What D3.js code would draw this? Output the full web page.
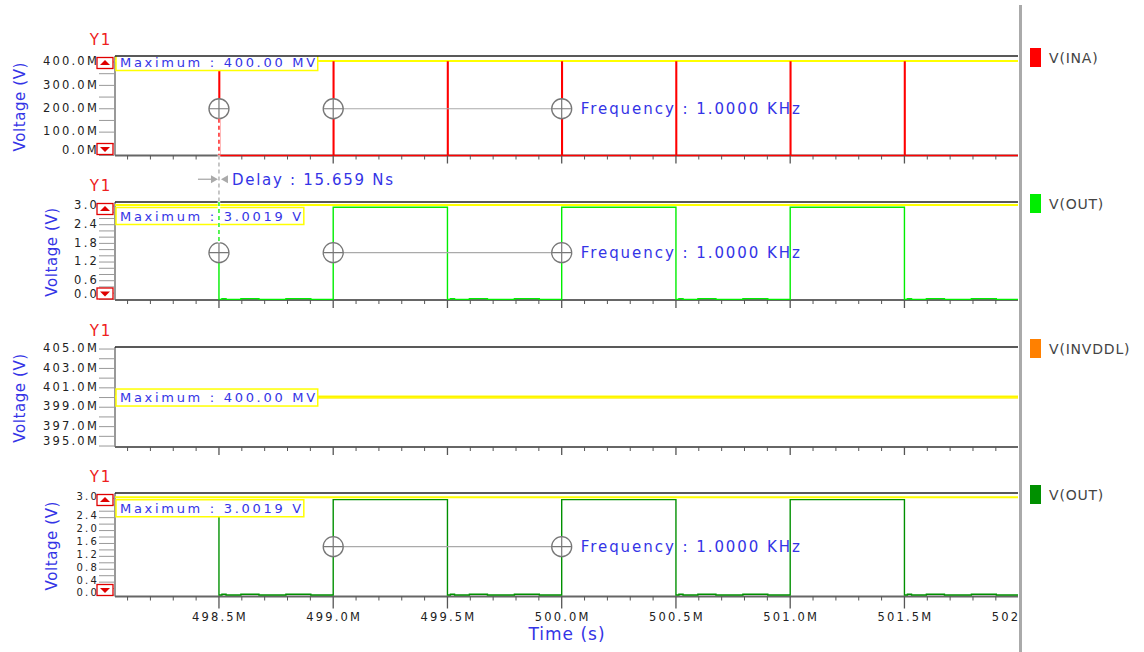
<!DOCTYPE html>
<html>
<head>
<meta charset="utf-8">
<script src="https://cdnjs.cloudflare.com/ajax/libs/d3/7.8.5/d3.min.js"></script>
<style>
body { margin: 0; background: #fff; }
svg { display: block; font-family: "DejaVu Sans", Verdana, sans-serif; }
</style>
</head>
<body>
<svg width="1144" height="652"></svg>
<script>
// time axis, in ms ("M" = milli)
const timeTicks = [498.5, 499.0, 499.5, 500.0, 500.5, 501.0, 501.5, 502.0];
const timeLabels = ['498.5M', '499.0M', '499.5M', '500.0M', '500.5M', '501.0M', '501.5M', '502.0M'];
const tStart = 498.5;
const tEnd = 502.0;

// V(INA): narrow pulses
const inaPulses = [498.5, 499.0, 499.5, 500.0, 500.5, 501.0, 501.5];
const inaHigh = 0.4;
const inaWidth = 0.003;

// V(OUT): toggles at every pulse, starts high
const outEdges = [498.5, 499.0, 499.5, 500.0, 500.5, 501.0, 501.5];
const outHigh = 2.96;
// small bumps on the low level
const outRipple = [
  [498.513, 498.531], [498.596, 498.675], [498.793, 498.902],
  [499.513, 499.531], [499.596, 499.675], [499.793, 499.902],
  [500.513, 500.531], [500.596, 500.675], [500.793, 500.902],
  [501.513, 501.531], [501.596, 501.675], [501.793, 501.902]
];
const rippleLevel = 0.025;

// V(INVDDL): flat
const invddlLevel = 0.4;

// y tick labels
const inaTicks = [0, 0.1, 0.2, 0.3, 0.4];
const inaTickLabels = ['0.0M', '100.0M', '200.0M', '300.0M', '400.0M'];
const outTicks = [0, 0.6, 1.2, 1.8, 2.4, 3.0];
const outTickLabels = ['0.0', '0.6', '1.2', '1.8', '2.4', '3.0'];
const invddlTicks = [0.395, 0.397, 0.399, 0.401, 0.403, 0.405];
const invddlTickLabels = ['395.0M', '397.0M', '399.0M', '401.0M', '403.0M', '405.0M'];
const out2Ticks = [0, 0.4, 0.8, 1.2, 1.6, 2.0, 2.4, 3.0];
const out2TickLabels = ['0.0', '0.4', '0.8', '1.2', '1.6', '2.0', '2.4', '3.0'];

const legendNames = ['V(INA)', 'V(OUT)', 'V(INVDDL)', 'V(OUT)'];
const maxValues = [0.4, 3.0019, 0.4, 3.0019];
const maxLabels = ['Maximum : 400.00 MV', 'Maximum : 3.0019 V', 'Maximum : 400.00 MV', 'Maximum : 3.0019 V'];

// cursors
const delayCursor = 498.5;
const freqCursors = [499.0, 500.0];
const markerLevels = [0.2, 1.5, null, 1.5];
const freqText = 'Frequency : 1.0000 KHz';
const delayText = 'Delay : 15.659 Ns';

var blue = '#3434e6';

function inaPoints() {
  var pts = [];
  inaPulses.forEach(function (t) {
    pts.push([t, 0], [t, inaHigh], [t + inaWidth, inaHigh], [t + inaWidth, 0]);
  });
  pts.push([tEnd, 0]);
  return pts;
}

function outPoints() {
  var pts = [];
  var level = outHigh;
  outEdges.forEach(function (t, i) {
    pts.push([t, level]);
    level = level === outHigh ? 0 : outHigh;
    pts.push([t, level]);
    if (level === 0) {
      var next = i + 1 < outEdges.length ? outEdges[i + 1] : tEnd;
      outRipple.filter(r => r[0] > t && r[1] < next).forEach(function (r) {
        pts.push([r[0], 0], [r[0], rippleLevel], [r[1], rippleLevel], [r[1], 0]);
      });
    }
  });
  pts.push([tEnd, level]);
  return pts;
}

var svg = d3.select('svg');

var x = d3.scaleLinear()
			.domain([498.045, 501.997])
			.range([115, 1018]);

var panels = [
  { color: '#ff0000', top: 56, bottom: 155.5, domain: [0, 0.4257], ticks: inaTicks, labels: inaTickLabels,
    minor: d3.range(0, 0.4001, 0.05), labelX: 20, buttons: true, boxMode: 'center', font: 11.5, lift: 1, floor: 5,
    data: inaPoints(), markers: [delayCursor].concat(freqCursors), majorLen: 8 },
  { color: '#00ee00', top: 202, bottom: 300, domain: [-0.02, 3.13], ticks: outTicks, labels: outTickLabels,
    minor: d3.range(0, 3.001, 0.2), labelX: 52, buttons: true, boxMode: 'below', font: 11.5, lift: 1, floor: 5,
    data: outPoints(), markers: [delayCursor].concat(freqCursors), majorLen: 8 },
  { color: '#ff8000', top: 347, bottom: 447, domain: [0.3949, 0.40521], ticks: invddlTicks, labels: invddlTickLabels,
    minor: d3.range(0.395, 0.40501, 0.001), labelX: 20, buttons: false, boxMode: 'center', font: 11.5, lift: 1, floor: 5,
    data: [[tStart, invddlLevel], [tEnd, invddlLevel]], markers: [], majorLen: 8 },
  { color: '#009000', top: 493, bottom: 596.5, domain: [-0.045, 3.165], ticks: out2Ticks, labels: out2TickLabels,
    minor: d3.range(0, 3.001, 0.2), labelX: 52, buttons: true, boxMode: 'below', font: 10, lift: 2, floor: 3,
    data: outPoints(), markers: freqCursors, majorLen: 12 }
];

var defs = svg.append('defs');

panels.forEach(function (p, i) {
  p.y = d3.scaleLinear().domain(p.domain).range([p.bottom, p.top]);
  defs.append('clipPath').attr('id', 'clip' + i)
    .append('rect')
    .attr('x', 115).attr('y', p.top)
    .attr('width', 903).attr('height', p.bottom - p.top + 2);
});

panels.forEach(function (p, i) {
  var y = p.y;
  var g = svg.append('g');

  // axis lines under the traces
  g.append('line')
    .attr('x1', 115).attr('x2', 115)
    .attr('y1', p.top).attr('y2', p.bottom)
    .attr('stroke', '#777').attr('stroke-width', 1.5);
  g.append('line')
    .attr('x1', 115).attr('x2', 1018)
    .attr('y1', p.bottom).attr('y2', p.bottom)
    .attr('stroke', '#666').attr('stroke-width', 1.8);

  var plot = g.append('g').attr('clip-path', 'url(#clip' + i + ')');

  // maximum line
  var my = y(maxValues[i]);
  plot.append('line')
    .attr('x1', 115).attr('x2', 1018)
    .attr('y1', my - 1).attr('y2', my - 1)
    .attr('stroke', '#ffff00')
    .attr('stroke-width', 2);

  var line = d3.line().x(d => x(d[0])).y(d => y(d[1]));
  plot.append('path')
    .attr('d', line(p.data))
    .attr('fill', 'none')
    .attr('stroke', p.color)
    .attr('stroke-width', 1.4);

  // yellow line hides the flat INVDDL trace
  if (i === 2) {
    plot.append('line')
      .attr('x1', 115).attr('x2', 1018)
      .attr('y1', my).attr('y2', my)
      .attr('stroke', '#ffff00')
      .attr('stroke-width', 2);
  }

  var boxH = 17;
  var boxY = p.boxMode === 'below' ? my + 1.5 : my - boxH / 2;
  var box = plot.append('rect')
    .attr('x', 116).attr('y', boxY)
    .attr('height', boxH)
    .attr('fill', '#fff')
    .attr('stroke', '#ffff00')
    .attr('stroke-width', 1.5);
  var mt = plot.append('text')
    .attr('x', 120).attr('y', boxY + boxH / 2)
    .attr('dy', '0.36em')
    .attr('fill', blue)
    .style('font-size', '13px')
    .style('letter-spacing', '2.7px')
    .text(maxLabels[i]);
  box.attr('width', mt.node().getBBox().width + 4);

  // cursor markers
  if (p.markers.length) {
    var ly = y(markerLevels[i]);
    g.append('line')
      .attr('x1', x(freqCursors[0])).attr('x2', x(freqCursors[1]))
      .attr('y1', ly).attr('y2', ly)
      .attr('stroke', '#aaa')
      .attr('stroke-width', 1.2);
    var m = g.selectAll('.marker' + i)
      .data(p.markers)
      .enter()
      .append('g')
      .attr('transform', d => 'translate(' + x(d) + ',' + ly + ')');
    m.append('circle').attr('r', 10).attr('fill', '#fff').attr('stroke', '#777').attr('stroke-width', 1.3);
    m.append('path').attr('d', 'M-10,0H10M0,-10V10').attr('stroke', '#777').attr('stroke-width', 1.2);
    g.append('text')
      .attr('x', x(freqCursors[1]) + 19).attr('y', ly)
      .attr('dy', '0.36em')
      .attr('fill', blue)
      .style('font-size', '15px')
      .style('letter-spacing', '1.95px')
      .text(freqText);
  }

  // top frame
  g.append('line')
    .attr('x1', 115).attr('x2', 1018)
    .attr('y1', p.top).attr('y2', p.top)
    .attr('stroke', '#222').attr('stroke-width', 1.5);

  // x ticks
  var minorX = d3.range(498.1, 502.0, 0.1).map(d => Math.round(d * 10) / 10)
    .filter(d => timeTicks.indexOf(d) < 0);
  g.selectAll('.xminor' + i)
    .data(minorX)
    .enter()
    .append('line')
    .attr('x1', d => x(d)).attr('x2', d => x(d))
    .attr('y1', p.bottom).attr('y2', p.bottom + 4)
    .attr('stroke', '#555');
  g.selectAll('.xmajor' + i)
    .data(timeTicks.filter(d => x(d) <= 1018))
    .enter()
    .append('line')
    .attr('x1', d => x(d)).attr('x2', d => x(d))
    .attr('y1', p.bottom).attr('y2', p.bottom + p.majorLen)
    .attr('stroke', '#555').attr('stroke-width', 1.3);

  // y ticks
  g.selectAll('.yminor' + i)
    .data(p.minor)
    .enter()
    .append('line')
    .attr('x1', 99).attr('x2', 114)
    .attr('y1', d => y(d)).attr('y2', d => y(d))
    .attr('stroke', '#999');
  g.selectAll('.ylab' + i)
    .data(p.ticks)
    .enter()
    .append('text')
    .attr('x', 99)
    .attr('y', d => Math.min(y(d) - p.lift, p.bottom - p.floor - 1))
    .attr('dy', '0.36em')
    .attr('text-anchor', 'end')
    .attr('fill', '#222')
    .style('font-size', p.font + 'px')
    .style('letter-spacing', '2.2px')
    .text((d, k) => p.labels[k]);

  if (p.buttons) {
    [[p.top + 1.5, 'up'], [p.bottom - 12, 'down']].forEach(function (b) {
      var by = b[0];
      g.append('rect')
        .attr('x', 97).attr('y', by)
        .attr('width', 16).attr('height', 11)
        .attr('fill', '#fff').attr('stroke', '#e00000').attr('stroke-width', 1.3);
      var tri = b[1] === 'up'
        ? 'M105,' + (by + 2.5) + 'L100,' + (by + 7.5) + 'H110Z'
        : 'M105,' + (by + 8.5) + 'L100,' + (by + 3.5) + 'H110Z';
      g.append('path').attr('d', tri).attr('fill', '#e00000');
    });
  }

  g.append('text')
    .attr('x', 101).attr('y', p.top - 16)
    .attr('dy', '0.36em')
    .attr('text-anchor', 'middle')
    .attr('fill', '#ee2020')
    .style('font-size', '15px')
    .style('letter-spacing', '2px')
    .text('Y1');

  g.append('text')
    .attr('transform', 'translate(' + p.labelX + ',' + ((p.top + p.bottom) / 2 + 1) + ') rotate(-90)')
    .attr('dy', '0.36em')
    .attr('text-anchor', 'middle')
    .attr('fill', blue)
    .style('font-size', '15px')
    .style('letter-spacing', '0.6px')
    .text('Voltage (V)');

  // legend
  svg.append('rect')
    .attr('x', 1030).attr('y', p.top + 1.5 - 9.5)
    .attr('width', 11).attr('height', 19)
    .attr('fill', p.color);
  svg.append('text')
    .attr('x', 1049).attr('y', p.top + 1.5)
    .attr('dy', '0.36em')
    .attr('fill', '#444')
    .style('font-size', '14px')
    .style('letter-spacing', '0.8px')
    .text(legendNames[i]);
});

// delay cursor between panel 1 and panel 2
var p1 = panels[0], p2 = panels[1];
var cx = x(delayCursor);
var c1 = p1.y(markerLevels[0]) + 10, c2 = p2.y(markerLevels[1]) - 10;
svg.append('line')
  .attr('x1', cx).attr('x2', cx).attr('y1', c1).attr('y2', c2)
  .attr('stroke', '#fff').attr('stroke-width', 2.5);
[[c1, p1.bottom, p1.color], [p1.bottom, p2.top, '#aaa'], [p2.top, c2, p2.color]].forEach(function (s) {
  svg.append('line')
    .attr('x1', cx).attr('x2', cx).attr('y1', s[0]).attr('y2', s[1])
    .attr('stroke', s[2]).attr('stroke-width', 1.3)
    .attr('stroke-dasharray', '4,3');
});
var dy = (p1.bottom + p2.top) / 2 + 0.5;
svg.append('line')
  .attr('x1', cx - 21).attr('x2', cx - 6).attr('y1', dy).attr('y2', dy)
  .attr('stroke', '#aaa').attr('stroke-width', 1.3);
svg.append('path')
  .attr('d', 'M' + (cx - 1) + ',' + dy + 'l-7,-4v8z M' + (cx + 2) + ',' + dy + 'l7,-4v8z')
  .attr('fill', '#aaa');
svg.append('text')
  .attr('x', cx + 13).attr('y', dy)
  .attr('dy', '0.36em')
  .attr('fill', blue)
  .style('font-size', '15px')
  .style('letter-spacing', '1.7px')
  .text(delayText);

// time labels
defs.append('clipPath').attr('id', 'clipx')
  .append('rect').attr('x', 100).attr('y', 600).attr('width', 919).attr('height', 40);
svg.append('g').attr('clip-path', 'url(#clipx)')
  .selectAll('text')
  .data(timeTicks)
  .enter()
  .append('text')
  .attr('x', d => x(d) + 1)
  .attr('y', 616.5)
  .attr('dy', '0.36em')
  .attr('text-anchor', 'middle')
  .attr('fill', '#222')
  .style('font-size', '11.5px')
  .style('letter-spacing', '2.2px')
  .text((d, k) => timeLabels[k]);

svg.append('text')
  .attr('x', 567).attr('y', 634)
  .attr('dy', '0.36em')
  .attr('text-anchor', 'middle')
  .attr('fill', blue)
  .style('font-size', '17px')
  .style('letter-spacing', '1px')
  .text('Time (s)');

// divider between plots and legend
svg.append('rect')
  .attr('x', 1019).attr('y', 5)
  .attr('width', 3).attr('height', 647)
  .attr('fill', '#aaa');
</script>
</body>
</html>
